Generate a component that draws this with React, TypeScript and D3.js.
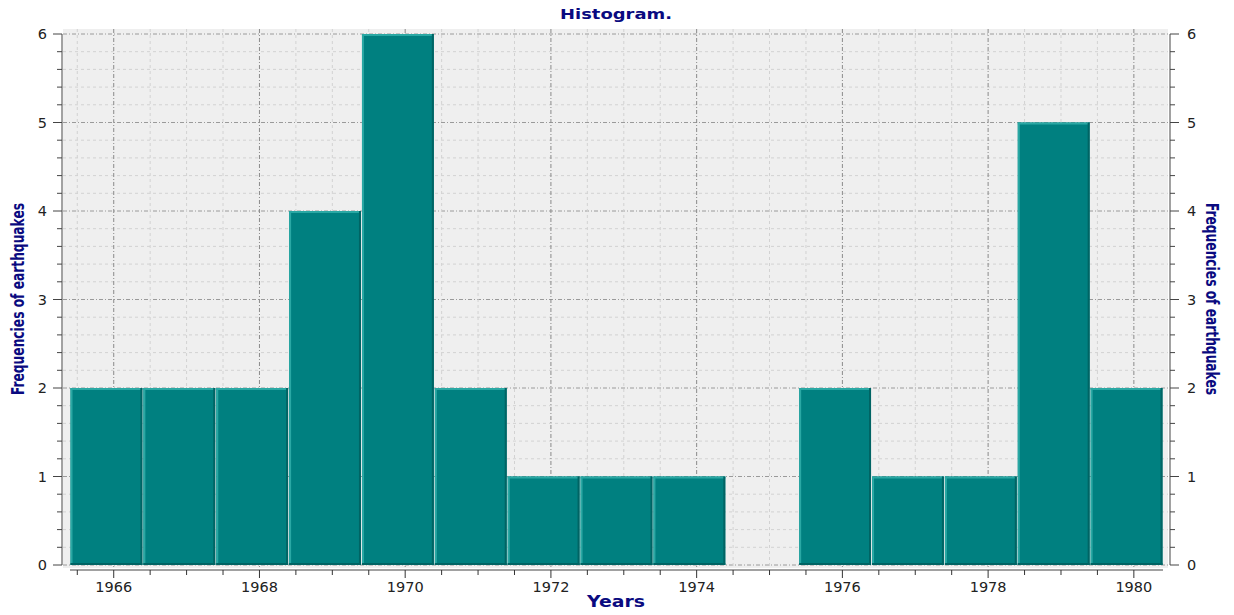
import React from 'react';
import * as d3 from 'd3';

// histogram bins (start year of each 1-year bin) and counts
const binStarts = [1965.4, 1966.4, 1967.4, 1968.4, 1969.4, 1970.4, 1971.4, 1972.4, 1973.4, 1974.4, 1975.4, 1976.4, 1977.4, 1978.4, 1979.4];
const counts = [2, 2, 2, 4, 6, 2, 1, 1, 1, 0, 2, 1, 1, 5, 2];
const xTickLabels = [1966, 1968, 1970, 1972, 1974, 1976, 1978, 1980];
const yTickLabels = [0, 1, 2, 3, 4, 5, 6];

const W = 1234;
const H = 615;
const NAVY = '#0a0a80';

const App = () => {
  const x = d3.scaleLinear().domain([1965.4, 1980.4]).range([70, 1163]);
  const y = d3.scaleLinear().domain([0, 6]).range([565, 34]);

  const bgLeft = 63, bgRight = 1168, bgTop = 29, bgBottom = 568;
  const axisY = 570, leftAxisX = 62, rightAxisX = 1170;

  const xMinor = d3.range(1965.5, 1980.5, 0.5);
  const yMinor = d3.range(0, 6.01, 0.2).map(v => Math.round(v * 10) / 10);
  const isMajorY = (v: number) => Math.abs(v - Math.round(v)) < 1e-6;
  const isMajorX = (v: number) => xTickLabels.includes(v);

  const tickFont = '"DejaVu Sans", Verdana, sans-serif';
  const labelFont = '"DejaVu Sans Condensed", "DejaVu Sans", sans-serif';

  return (
    <svg width={W} height={H} style={{ position: 'absolute', left: 0, top: 0, background: '#fff' }}>
      <rect x={bgLeft} y={bgTop} width={bgRight - bgLeft} height={bgBottom - bgTop} fill="#efefef" />

      {/* horizontal grid */}
      {yMinor.map(v => (
        <line key={'gy' + v} x1={bgLeft} x2={bgRight} y1={y(v)} y2={y(v)}
          stroke={isMajorY(v) ? '#9a9a9a' : '#d2d2d2'}
          strokeWidth={1}
          strokeDasharray={isMajorY(v) ? '4,2,1,2' : '3,3'} />
      ))}
      {/* vertical grid */}
      {xMinor.map(v => (
        <line key={'gx' + v} y1={bgTop} y2={bgBottom} x1={x(v)} x2={x(v)}
          stroke={isMajorX(v) ? '#8a8a8a' : '#d2d2d2'}
          strokeWidth={1}
          strokeDasharray={isMajorX(v) ? '4,2,1,2' : '3,3'} />
      ))}

      {/* bars */}
      {binStarts.map((b, i) => {
        const v = counts[i];
        if (v <= 0) return null;
        const x0 = x(b) + 0.5;
        const x1 = x(b + 1) - 0.5;
        const y0 = y(v);
        const y1 = y(0);
        return (
          <g key={'bar' + i}>
            <rect x={x0} y={y0} width={x1 - x0} height={y1 - y0} fill="#008080" />
            <rect x={x0} y={y0} width={x1 - x0} height={2} fill="#2aa8a4" />
            <rect x={x0} y={y0} width={2} height={y1 - y0} fill="#2aa8a4" />
            <rect x={x1 - 2} y={y0} width={2} height={y1 - y0} fill="#006464" />
            <rect x={x0} y={y1 - 2} width={x1 - x0} height={2} fill="#006464" />
          </g>
        );
      })}

      {/* x axis */}
      <line x1={x(1965.4)} x2={x(1980.4)} y1={axisY} y2={axisY} stroke="#444" />
      {xMinor.map(v => (
        <line key={'xt' + v} x1={x(v)} x2={x(v)} y1={axisY} y2={axisY + (isMajorX(v) ? 8 : 5)} stroke="#333" />
      ))}
      {xTickLabels.map(v => (
        <text key={'xl' + v} x={x(v)} y={axisY + 22} textAnchor="middle" fontFamily={tickFont} fontSize={14.5} fill="#222">{v}</text>
      ))}

      {/* left y axis */}
      <line x1={leftAxisX} x2={leftAxisX} y1={y(6)} y2={y(0)} stroke="#444" />
      {yMinor.map(v => (
        <line key={'ylt' + v} x1={leftAxisX - (isMajorY(v) ? 9 : 5)} x2={leftAxisX} y1={y(v)} y2={y(v)} stroke="#444" />
      ))}
      {yTickLabels.map(v => (
        <text key={'yl' + v} x={leftAxisX - 15} y={y(v) + 5} textAnchor="end" fontFamily={tickFont} fontSize={14.5} fill="#222">{v}</text>
      ))}

      {/* right y axis */}
      <line x1={rightAxisX} x2={rightAxisX} y1={y(6)} y2={y(0)} stroke="#444" />
      {yMinor.map(v => (
        <line key={'yrt' + v} x1={rightAxisX} x2={rightAxisX + (isMajorY(v) ? 9 : 5)} y1={y(v)} y2={y(v)} stroke="#444" />
      ))}
      {yTickLabels.map(v => (
        <text key={'yr' + v} x={rightAxisX + 17} y={y(v) + 5} textAnchor="start" fontFamily={tickFont} fontSize={14.5} fill="#222">{v}</text>
      ))}

      {/* titles */}
      <text x={616} y={19} textAnchor="middle" fontFamily={tickFont} fontWeight="bold" fontSize={14.5} fill={NAVY}
        textLength={112} lengthAdjust="spacingAndGlyphs">Histogram.</text>
      <text x={616} y={607} textAnchor="middle" fontFamily={tickFont} fontWeight="bold" fontSize={16} fill={NAVY}
        textLength={58} lengthAdjust="spacingAndGlyphs">Years</text>
      <text transform="translate(24,299) rotate(-90)" textAnchor="middle"
        fontFamily={labelFont} fontWeight="bold" fontSize={18} fill={NAVY}
        textLength={192} lengthAdjust="spacingAndGlyphs">
        Frequencies of earthquakes
      </text>
      <text transform="translate(1206,299) rotate(90)" textAnchor="middle"
        fontFamily={labelFont} fontWeight="bold" fontSize={18} fill={NAVY}
        textLength={192} lengthAdjust="spacingAndGlyphs">
        Frequencies of earthquakes
      </text>
    </svg>
  );
};

export default App;
